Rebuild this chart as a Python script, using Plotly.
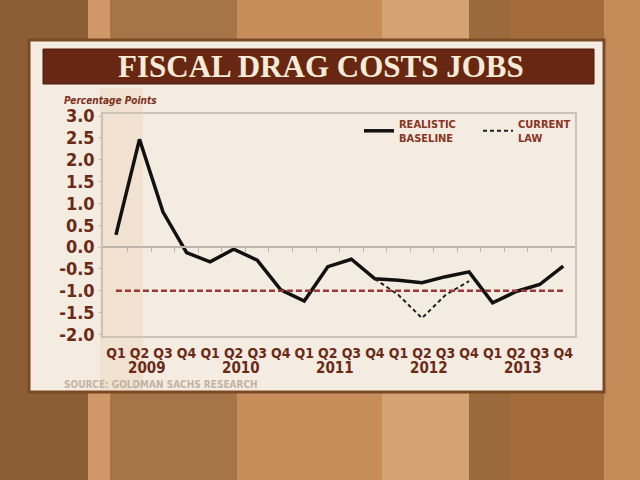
import plotly.graph_objects as go

quarters = ["Q1", "Q2", "Q3", "Q4"] * 5
years = ["2009", "2010", "2011", "2012", "2013"]
realistic_baseline = [0.28, 2.47, 0.8, -0.13, -0.34, -0.05, -0.3, -0.98, -1.24,
                      -0.45, -0.28, -0.73, -0.76, -0.82, -0.68, -0.57, -1.28,
                      -1.02, -0.86, -0.44]
current_law = [None] * 11 + [-0.73, -1.1, -1.63, -1.1, -0.78] + [None] * 4
reference_level = [-1.0] * 20
y_ticks = [3.0, 2.5, 2.0, 1.5, 1.0, 0.5, 0.0, -0.5, -1.0, -1.5, -2.0]

W, H = 640, 480
L, R, T, B = 103, 575, 114, 336   # plot area in pixels
YMIN, YMAX = -2.04, 3.05
XMIN, XMAX = -0.55, 19.5


def px(x):
    return (x - L) / (R - L)


def py(y):
    return (B - y) / (B - T)


idx = list(range(len(quarters)))
fig = go.Figure()

fig.add_trace(go.Scatter(
    x=idx, y=reference_level, mode="lines", xaxis="x2", yaxis="y",
    line=dict(color="#9a3838", width=2.5, dash="6px,3px"),
    showlegend=False, hoverinfo="skip"))
fig.add_trace(go.Scatter(
    x=idx, y=realistic_baseline, mode="lines", name="REALISTIC<br>BASELINE",
    line=dict(color="#111111", width=3.5)))
fig.add_trace(go.Scatter(
    x=idx, y=current_law, mode="lines", name="CURRENT<br>LAW",
    line=dict(color="#222222", width=2, dash="4px,3px")))

shapes = []
stripes = [(0, 88, "#8c5e35"), (88, 110, "#cf9866"), (110, 237, "#a57547"),
           (237, 382, "#c68d5a"), (382, 469, "#d4a273"), (469, 510, "#9b6a3c"),
           (510, 604, "#a46c3a"), (604, 640, "#c48a57")]
for x0, x1, c in stripes:
    shapes.append(dict(type="rect", xref="paper", yref="paper", layer="below",
                       x0=px(x0), x1=px(x1), y0=py(480), y1=py(0),
                       fillcolor=c, line=dict(width=0)))
shapes.append(dict(type="rect", xref="paper", yref="paper", layer="below",
                   x0=px(29), x1=px(604), y0=py(392), y1=py(40),
                   fillcolor="#f5ece1", line=dict(color="#7a4a26", width=3)))
shapes.append(dict(type="rect", xref="paper", yref="paper", layer="below",
                   x0=px(100), x1=px(143), y0=py(390), y1=py(88),
                   fillcolor="#eddbc5", line=dict(width=0), opacity=0.6))
shapes.append(dict(type="rect", xref="paper", yref="paper", layer="below",
                   x0=px(43), x1=px(594), y0=py(84), y1=py(49),
                   fillcolor="#672712", line=dict(color="#4e1a0a", width=1)))

tick_font = dict(family="DejaVu Sans Condensed, Liberation Sans Narrow, DejaVu Sans, sans-serif",
                 color="#6b2a18", weight="bold")

annotations = [
    dict(text="FISCAL DRAG COSTS JOBS", xref="paper", yref="paper",
         x=px(321), y=py(66), xanchor="center", yanchor="middle", showarrow=False,
         font=dict(family="Liberation Serif, DejaVu Serif, serif", size=31,
                   color="#f7ead6", weight="bold")),
    dict(text="<i>Percentage Points</i>", xref="paper", yref="paper",
         x=px(62), y=py(100), xanchor="left", yanchor="middle", showarrow=False,
         font=dict(tick_font, size=10, color="#7a3020")),
    dict(text="SOURCE: GOLDMAN SACHS RESEARCH", xref="paper", yref="paper",
         x=px(62), y=py(384), xanchor="left", yanchor="middle", showarrow=False,
         font=dict(tick_font, size=10, color="#c2b3a4")),
]
for k, yr in enumerate(years):
    annotations.append(dict(text=yr, xref="x", yref="paper", x=4 * k + 1.3,
                            y=py(368), xanchor="center", yanchor="middle",
                            showarrow=False, font=dict(tick_font, size=15)))

fig.update_layout(
    width=W, height=H,
    margin=dict(l=L, r=W - R, t=T, b=H - B, pad=0),
    paper_bgcolor="#8c5e35",
    plot_bgcolor="rgba(0,0,0,0)",
    shapes=shapes,
    annotations=annotations,
    xaxis=dict(range=[XMIN, XMAX], tickmode="array", tickvals=idx, ticktext=quarters,
               tickfont=dict(tick_font, size=14), ticks="", showgrid=False,
               zeroline=False, showline=True, mirror=True, linecolor="#cbc3b8",
               linewidth=1.5, ticklabelstandoff=3),
    xaxis2=dict(range=[XMIN, XMAX], overlaying="x", anchor="free",
                position=(0 - YMIN) / (YMAX - YMIN), showline=True,
                linecolor="#bdb5ab", linewidth=1.5, ticks="outside", ticklen=4,
                tickcolor="#bdb5ab", tickmode="array",
                tickvals=[i + 0.5 for i in idx[:-1]], showticklabels=False,
                showgrid=False, zeroline=False),
    yaxis=dict(range=[YMIN, YMAX], tickmode="array", tickvals=y_ticks,
               ticktext=[f"{v:.1f}" for v in y_ticks],
               tickfont=dict(tick_font, size=18), ticks="outside", ticklen=3,
               tickcolor="#cbc3b8", showgrid=False, zeroline=False,
               showline=True, mirror=True, linecolor="#cbc3b8", linewidth=1.5),
    legend=dict(orientation="h", x=px(359), y=py(110), xanchor="left", yanchor="top",
                bgcolor="rgba(0,0,0,0)", font=dict(tick_font, size=11, color="#8a3424"),
                entrywidth=74, tracegroupgap=0),
)

fig.write_html("out.html",
               config={"displayModeBar": False},
               post_script="document.body.style.margin='0';"
                           "document.body.style.overflow='hidden';")
